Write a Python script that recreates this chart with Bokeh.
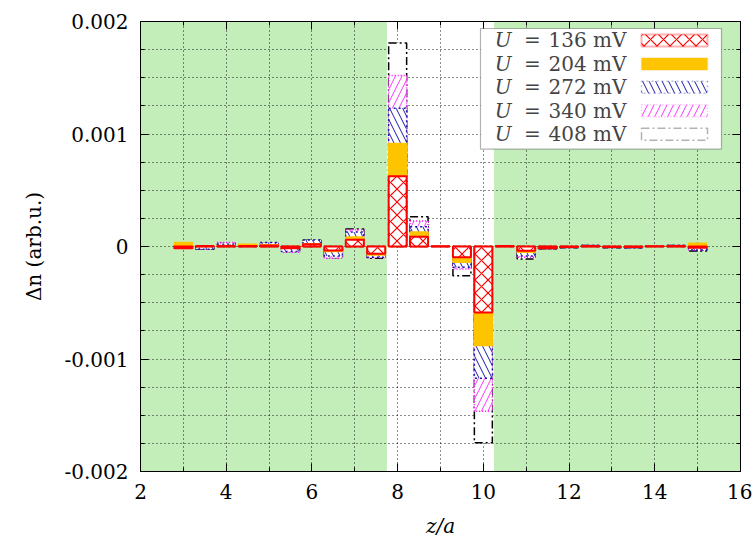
from bokeh.plotting import figure
from bokeh.models import (BoxAnnotation, Label, FixedTicker, LinearAxis,
                          CustomJSTickFormatter, Range1d, SingleIntervalTicker,
                          ColumnDataSource)
from bokeh.embed import file_html
from bokeh.resources import INLINE

# ---------------- data (values in units of 1e-4, arb.u.) ----------------
UNIT = 1e-4
positions = [3.0, 3.5, 4.0, 4.5, 5.0, 5.5, 6.0, 6.5, 7.0, 7.5, 8.0, 8.5, 9.0,
             9.5, 10.0, 10.5, 11.0, 11.5, 12.0, 12.5, 13.0, 13.5, 14.0, 14.5, 15.0]
s136 = [-0.15, 0.05, 0.05, 0.05, 0.10, -0.15, 0.20, -0.35, 0.60, -0.65, 6.25, 0.87, 0.02,
        -0.96, -5.87, 0.05, -0.37, -0.15, -0.05, 0.05, -0.05, -0.05, 0.02, 0.05, -0.12]
s204 = [0.35, 0.05, 0.10, 0.20, 0.15, -0.10, 0.25, -0.45, 0.85, -0.75, 9.15, 1.30, 0.03,
        -1.40, -8.80, 0.05, -0.50, -0.15, -0.05, 0.05, -0.05, -0.05, 0.03, 0.05, 0.28]
s272 = [0.10, -0.25, 0.20, 0.15, 0.35, -0.45, 0.58, -0.85, 1.30, -0.95, 12.30, 1.76, 0.03,
        -1.85, -11.70, 0.05, -0.85, -0.20, -0.08, 0.08, -0.08, -0.10, 0.04, 0.08, -0.30]
s340 = [0.10, -0.20, 0.35, 0.10, 0.30, -0.50, 0.50, -1.05, 1.50, -1.00, 15.20, 2.26, 0.03,
        -2.00, -14.65, 0.05, -0.95, -0.15, -0.08, 0.10, -0.08, -0.10, 0.04, 0.10, -0.30]
s408 = [0.10, -0.25, 0.30, 0.10, 0.30, -0.45, 0.55, -1.00, 1.55, -1.05, 18.10, 2.65, 0.03,
        -2.60, -17.45, 0.05, -1.10, -0.20, -0.10, 0.10, -0.10, -0.12, 0.05, 0.10, -0.40]
voltages = ["136", "204", "272", "340", "408"]
green_regions = [(2.0, 7.75), (10.25, 16.0)]
x_major = [2, 4, 6, 8, 10, 12, 14, 16]
x_minor = [3, 5, 7, 9, 11, 13, 15]
y_major = [-0.002, -0.001, 0.0, 0.001, 0.002]
y_minor = [-0.00175, -0.0015, -0.00125, -0.00075, -0.0005, -0.00025,
           0.00025, 0.0005, 0.00075, 0.00125, 0.0015, 0.00175]

FONT = "DejaVu Serif"
FS = "20px"
GREEN = "#c3eeba"

p = figure(width=752, height=548, x_range=Range1d(2, 16), y_range=Range1d(-0.002, 0.002),
           output_backend="svg", toolbar_location=None,
           min_border_left=140, min_border_right=12, min_border_top=21, min_border_bottom=77)
p.background_fill_color = "white"
p.border_fill_color = "white"
p.outline_line_color = "black"
p.outline_line_width = 1

# green background regions
for (a, b) in green_regions:
    p.add_layout(BoxAnnotation(left=a, right=b, fill_color=GREEN, fill_alpha=1.0,
                               line_alpha=0, level="image"))

# grid
p.xgrid.ticker = SingleIntervalTicker(interval=1)
p.ygrid.ticker = SingleIntervalTicker(interval=0.00025)
for g in (p.xgrid, p.ygrid):
    g.grid_line_color = "black"
    g.grid_line_dash = "1 3"
    g.grid_line_width = 1
    g.grid_line_alpha = 0.9

# axes
xt = FixedTicker(ticks=x_major, minor_ticks=x_minor)
yt = FixedTicker(ticks=y_major, minor_ticks=y_minor)
yfmt = CustomJSTickFormatter(code="return Math.abs(tick) < 1e-12 ? '0' : tick.toFixed(3);")
p.xaxis.ticker = xt
p.yaxis.ticker = yt
p.yaxis.formatter = yfmt
p.xaxis.axis_label = "z/a"
p.yaxis.axis_label = "Δn (arb.u.)"
p.xaxis.axis_label_text_font_style = "italic"
p.yaxis.axis_label_text_font_style = "normal"

def style_axis(ax):
    ax.axis_line_color = "black"
    ax.major_tick_in = 8
    ax.major_tick_out = 0
    ax.minor_tick_in = 4
    ax.minor_tick_out = 0
    ax.major_tick_line_color = "black"
    ax.minor_tick_line_color = "black"
    ax.major_label_text_font = FONT
    ax.major_label_text_font_size = FS
    ax.major_label_text_color = "black"
    ax.axis_label_text_font = FONT
    ax.axis_label_text_font_size = FS
    ax.axis_label_text_color = "black"

for ax in (p.xaxis[0], p.yaxis[0]):
    style_axis(ax)
p.xaxis.major_label_standoff = 12
p.yaxis.major_label_standoff = 12
p.xaxis.axis_label_standoff = 12
p.yaxis.axis_label_standoff = 15

top_ax = LinearAxis(ticker=FixedTicker(ticks=x_major, minor_ticks=x_minor),
                    formatter=CustomJSTickFormatter(code="return '';"))
right_ax = LinearAxis(ticker=FixedTicker(ticks=y_major, minor_ticks=y_minor),
                      formatter=CustomJSTickFormatter(code="return '';"))
for ax in (top_ax, right_ax):
    style_axis(ax)
    ax.major_label_standoff = 0
p.add_layout(top_ax, "above")
p.add_layout(right_ax, "right")

# bars (drawn from largest voltage to smallest)
src = ColumnDataSource(dict(
    x=positions,
    v136=[v * UNIT for v in s136],
    v204=[v * UNIT for v in s204],
    v272=[v * UNIT for v in s272],
    v340=[v * UNIT for v in s340],
    v408=[v * UNIT for v in s408],
))
W = 0.42
styles = {
    "408": dict(fill_color="white", line_color="black", line_dash="8 3 2 3", line_width=1.5),
    "340": dict(fill_color="white", line_color="#ff00ff", line_dash="1 2", line_width=1.5,
                hatch_pattern="/", hatch_color="#ff00ff", hatch_scale=13, hatch_weight=0.8),
    "272": dict(fill_color="white", line_color="#1a1aaa", line_dash="2 3", line_width=1.5,
                hatch_pattern="\\", hatch_color="#1a1aaa", hatch_scale=13, hatch_weight=1.0),
    "204": dict(fill_color="#ffc400", line_color="#ffc400", line_width=1.5),
    "136": dict(fill_color="white", line_color="#ff0000", line_width=2,
                hatch_pattern="x", hatch_color="#ff0000", hatch_scale=13, hatch_weight=1.2),
}
for v in ["408", "340", "272", "204", "136"]:
    p.vbar(x="x", top="v" + v, bottom=0, width=W, source=src, **styles[v])

# legend (text left, swatch right, as in the original), placed in data units
PX = 14 / 600.0          # x data units per pixel
PY = 0.004 / 451.0       # y data units per pixel
def dx(px):
    return 2 + (px - 140) * PX
def dy(py):
    return 0.002 - (py - 21) * PY

p.add_layout(BoxAnnotation(left=dx(480), right=dx(721), top=dy(28), bottom=dy(149),
                           fill_color="white", fill_alpha=1.0, line_color="black",
                           line_width=1.2, level="overlay"))
row_px = [40, 63.5, 87, 110.5, 134]
for i, v in enumerate(voltages):
    yc = dy(row_px[i])
    st = styles[v]
    kw = dict(fill_color=st["fill_color"], fill_alpha=1.0, line_color=st["line_color"],
              line_width=st["line_width"], level="overlay")
    if "line_dash" in st:
        kw["line_dash"] = st["line_dash"]
    if "hatch_pattern" in st:
        kw.update(hatch_pattern=st["hatch_pattern"], hatch_color=st["hatch_color"],
                  hatch_scale=st["hatch_scale"], hatch_weight=st["hatch_weight"])
    p.add_layout(BoxAnnotation(left=dx(641), right=dx(707), top=dy(row_px[i] - 6),
                               bottom=dy(row_px[i] + 6), **kw))
    p.add_layout(Label(x=dx(511), y=yc, text="U", text_font=FONT, text_font_size=FS,
                       text_font_style="italic", text_align="right", text_baseline="middle",
                       level="overlay"))
    p.add_layout(Label(x=dx(532), y=yc, text="=", text_font=FONT, text_font_size=FS,
                       text_align="center", text_baseline="middle", level="overlay"))
    p.add_layout(Label(x=dx(548), y=yc, text=v + " mV", text_font=FONT, text_font_size=FS,
                       text_align="left", text_baseline="middle", level="overlay"))

open("out.html", "w").write(file_html(p, INLINE))
